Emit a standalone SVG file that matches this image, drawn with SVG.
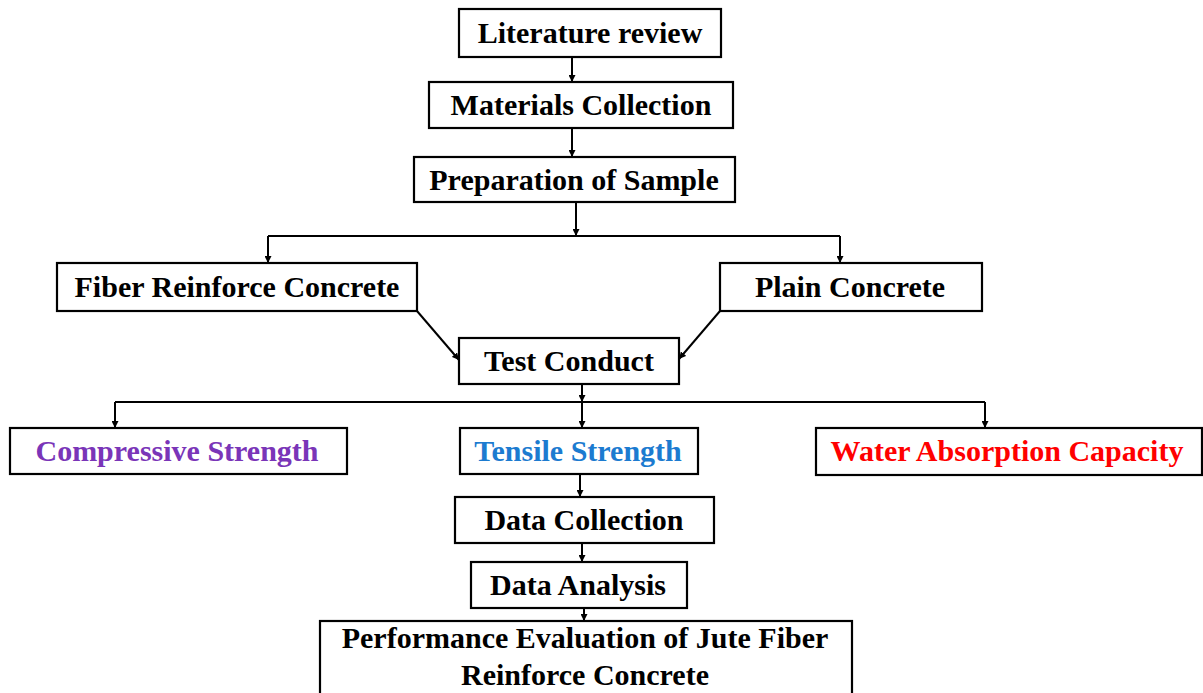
<svg xmlns="http://www.w3.org/2000/svg" width="1203" height="693" viewBox="0 0 1203 693">
<defs>
<marker id="ah" viewBox="0 0 10 10" refX="10" refY="5" markerWidth="7" markerHeight="7" markerUnits="userSpaceOnUse" orient="auto">
<path d="M0,0 L10,5 L0,10 z" fill="#000"/>
</marker>
<style>
.box{fill:#fff;stroke:#000;stroke-width:2.2}
.t{font-family:"Liberation Serif","Times New Roman",serif;font-weight:bold;font-size:30px;text-anchor:middle;fill:#000}
.c{fill:none;stroke:#000;stroke-width:2}
</style>
</defs>
<rect width="1203" height="693" fill="#fff"/>
<g id="connectors">
<path class="c" d="M572,57 V82" marker-end="url(#ah)"/>
<path class="c" d="M572,128 V157" marker-end="url(#ah)"/>
<path class="c" d="M576,202 V236" marker-end="url(#ah)"/>
<path class="c" d="M268,236 H840"/>
<path class="c" d="M268,236 V263" marker-end="url(#ah)"/>
<path class="c" d="M840,236 V263" marker-end="url(#ah)"/>
<path class="c" d="M417,311 L459,360" marker-end="url(#ah)"/>
<path class="c" d="M720,311 L679,359" marker-end="url(#ah)"/>
<path class="c" d="M582,384 V402" marker-end="url(#ah)"/>
<path class="c" d="M115,402 H985"/>
<path class="c" d="M115,402 V428" marker-end="url(#ah)"/>
<path class="c" d="M582,402 V428" marker-end="url(#ah)"/>
<path class="c" d="M985,402 V428" marker-end="url(#ah)"/>
<path class="c" d="M580,474 V497" marker-end="url(#ah)"/>
<path class="c" d="M582,543 V562" marker-end="url(#ah)"/>
<path class="c" d="M584,608 V621" marker-end="url(#ah)"/>
</g>
<g id="literature">
<rect class="box" x="459" y="9" width="262" height="48"/>
<text class="t" x="590" y="43">Literature review</text>
</g>
<g id="materials">
<rect class="box" x="429" y="82" width="304" height="46"/>
<text class="t" x="581" y="115">Materials Collection</text>
</g>
<g id="preparation">
<rect class="box" x="414" y="157" width="321" height="45"/>
<text class="t" x="574" y="190">Preparation of Sample</text>
</g>
<g id="fiber">
<rect class="box" x="57" y="263" width="360" height="48"/>
<text class="t" x="237" y="297">Fiber Reinforce Concrete</text>
</g>
<g id="plain">
<rect class="box" x="720" y="263" width="262" height="48"/>
<text class="t" x="850" y="297">Plain Concrete</text>
</g>
<g id="test">
<rect class="box" x="459" y="338" width="220" height="46"/>
<text class="t" x="569" y="371">Test Conduct</text>
</g>
<g id="compressive">
<rect class="box" x="10" y="428" width="337" height="46"/>
<text class="t" x="177" y="461" style="fill:#7A35B8">Compressive Strength</text>
</g>
<g id="tensile">
<rect class="box" x="460" y="428" width="238" height="46"/>
<text class="t" x="578" y="461" style="fill:#1C7BD0">Tensile Strength</text>
</g>
<g id="water">
<rect class="box" x="816" y="428" width="386" height="47"/>
<text class="t" x="1007" y="461" style="fill:#FF0000">Water Absorption Capacity</text>
</g>
<g id="datacollection">
<rect class="box" x="455" y="497" width="259" height="46"/>
<text class="t" x="584" y="530">Data Collection</text>
</g>
<g id="dataanalysis">
<rect class="box" x="471" y="562" width="216" height="46"/>
<text class="t" x="578" y="595">Data Analysis</text>
</g>
<g id="performance">
<rect class="box" x="320" y="621" width="532" height="90"/>
<text class="t" x="585" y="648">Performance Evaluation of Jute Fiber</text>
<text class="t" x="585" y="685">Reinforce Concrete</text>
</g>
</svg>
